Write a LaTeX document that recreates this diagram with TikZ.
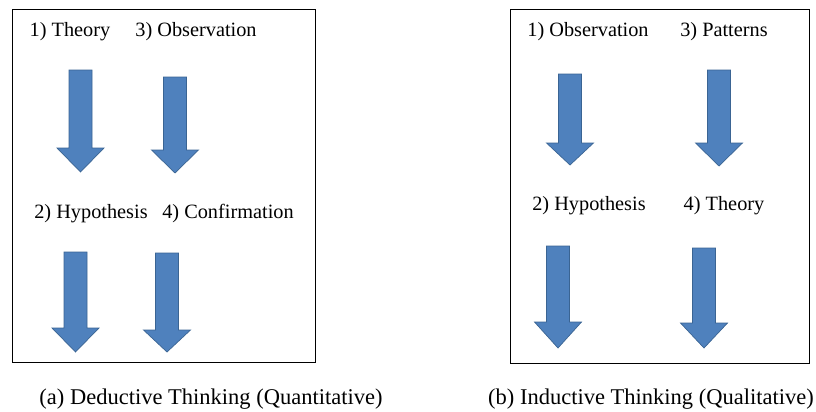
\documentclass[tikz,border=0pt]{standalone}
\usepackage{fontspec}
\setmainfont{Liberation Serif}
\newfontfamily\timesfont{Liberation Serif}
\usepackage{tikz}

\definecolor{arrowblue}{HTML}{4F81BD}
\definecolor{arrowedge}{HTML}{3A6493}

\tikzset{
	panel/.style={draw=black, line width=0.8pt},
	steplabel/.style={inner sep=0pt, font=\timesfont\fontsize{20.3}{24}\selectfont},
	caption/.style={inner sep=0pt, font=\timesfont\fontsize{22.5}{27}\selectfont},
	blockarrow/.style={fill=arrowblue, draw=arrowedge, line width=0.7pt, line join=miter}
}

\begin{document}
\begin{tikzpicture}[x=1pt, y=-1pt]
			\useasboundingbox (0,0) rectangle (816,412);
			% Panels
			\draw[panel] (12,9) rectangle (315,362);
			\draw[panel] (510,9) rectangle (809,363);
			% Labels (a)
			\node[steplabel] (theoryA) at (70,32) {1) Theory};
			\node[steplabel] (observA) at (196,32) {3) Observation};
			\node[steplabel] (hypoA) at (91,214) {2) Hypothesis};
			\node[steplabel] (confA) at (228,214) {4) Confirmation};
			\node[caption] (capA) at (211,399) {(a) Deductive Thinking (Quantitative)};
			% Labels (b)
			\node[steplabel] (observB) at (588,32) {1) Observation};
			\node[steplabel] (pattB) at (724,32) {3) Patterns};
			\node[steplabel] (hypoB) at (589,206) {2) Hypothesis};
			\node[steplabel] (theoryB) at (724,206) {4) Theory};
			\node[caption] (capB) at (651,399) {(b) Inductive Thinking (Qualitative)};
			% Block arrows: centre x / top / head start / tip
			\foreach \x/\t/\h/\e in {80.5/70/148/172, 175/77/150/173, 75.5/252/328/352, 167/253/330/352,
				570/74/143/165, 719/70/143/166, 558/246/322/348, 704/248/323/348} {
				\draw[blockarrow] (\x-11.5,\t) -- (\x+11.5,\t) -- (\x+11.5,\h) -- (\x+23.5,\h)
					-- (\x,\e) -- (\x-23.5,\h) -- (\x-11.5,\h) -- cycle;
			}
		\end{tikzpicture}
\end{document}
